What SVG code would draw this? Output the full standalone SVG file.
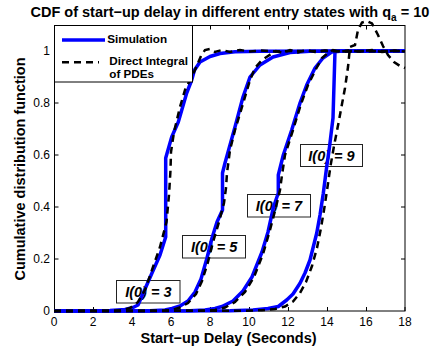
<svg xmlns="http://www.w3.org/2000/svg" width="441" height="353" viewBox="0 0 441 353">
<style>
text{font-family:"Liberation Sans",Arial,sans-serif;fill:#000}
.tick{font-size:12px}
.lab{font-size:14.5px;font-weight:bold}
.title{font-size:14.5px;font-weight:bold}
.leg{font-size:11.7px;font-weight:bold}
.box rect{fill:#fff;stroke:#222;stroke-width:1}
.box text{font-size:14.5px;font-weight:bold;font-style:italic;text-anchor:middle}
.sim{fill:none;stroke:#0000ff;stroke-width:3.5;stroke-linejoin:round}
.pde{fill:none;stroke:#000;stroke-width:2.5;stroke-dasharray:7 5}
.frame{fill:none;stroke:#000;stroke-width:1}
</style>
<rect width="441" height="353" fill="#fff"/>
<g id="axes">
<rect class="frame" x="54.5" y="25.5" width="350.5" height="285.5"/>
<path class="frame" d="M54.5,311v-4M93.5,311v-4M132.5,311v-4M171.5,311v-4M210.5,311v-4M249.5,311v-4M288.5,311v-4M327.5,311v-4M366.5,311v-4M405,311v-4
M54.5,25.5v4M93.5,25.5v4M132.5,25.5v4M171.5,25.5v4M210.5,25.5v4M249.5,25.5v4M288.5,25.5v4M327.5,25.5v4M366.5,25.5v4
M54.5,259h4M54.5,207h4M54.5,155h4M54.5,103h4M54.5,51h4
M405,259h-4M405,207h-4M405,155h-4M405,103h-4M405,51h-4"/>
<g class="tick" text-anchor="middle">
<text x="54" y="325.5">0</text><text x="93" y="325.5">2</text><text x="132" y="325.5">4</text><text x="171" y="325.5">6</text><text x="210" y="325.5">8</text><text x="249" y="325.5">10</text><text x="288" y="325.5">12</text><text x="327" y="325.5">14</text><text x="366" y="325.5">16</text><text x="405" y="325.5">18</text>
</g>
<g class="tick" text-anchor="end">
<text x="50" y="315">0</text><text x="50" y="263">0.2</text><text x="50" y="211">0.4</text><text x="50" y="159">0.6</text><text x="50" y="107">0.8</text><text x="50" y="55">1</text>
</g>
<text class="title" x="30.5" y="17.3">CDF of start−up delay in different entry states with q<tspan font-size="10" dy="4">a</tspan><tspan dy="-4"> = 10</tspan></text>
<text class="lab" x="228.5" y="342.5" text-anchor="middle">Start−up Delay (Seconds)</text>
<text class="lab" transform="translate(25.3,169) rotate(-90)" text-anchor="middle">Cumulative distribution function</text>
</g>
<g id="label-i3" class="box"><rect x="116.5" y="280.5" width="63.5" height="22.5"/><text x="148.3" y="296.5">I(0) = 3</text></g>
<g id="label-i5" class="box"><rect x="182.5" y="235.5" width="63" height="22.5"/><text x="214.2" y="252">I(0) = 5</text></g>
<g id="label-i7" class="box"><rect x="247.5" y="194.5" width="63" height="22.5"/><text x="279" y="211">I(0) = 7</text></g>
<g id="label-i9" class="box"><rect x="300.5" y="144.5" width="62" height="22"/><text x="331.5" y="160.5">I(0) = 9</text></g>
<g id="curves">
<path class="sim" d="M54,311 L110,310.6 L125,309.5 L133,307.5 L138,305 L145,289 L152,273 L160,255 L165.7,237 L165.7,158 L171.7,137 L178.3,122 L186.7,93 L191.7,80 L194.5,70 L200,62 L210,56.5 L220,53.5 L235,51.8 L260,51.2 L405,51"/>
<path class="sim" d="M54,311 L150,310.8 L165,310 L172,308.5 L180,306 L188,301 L195,292 L201,279 L207,258 L212,238 L217,222 L222.5,210 L222.5,173 L225,163 L235,127 L243,97 L250,77 L260,65 L273,57 L290,52.5 L310,51.3 L405,51"/>
<path class="sim" d="M54,311 L190,310.8 L205,310 L215,308.5 L222,306.5 L233,301 L243,291 L252,277 L262,252 L268,232 L273.5,207 L278.3,193 L278.3,175 L283.3,155 L291.7,130 L300,103 L306.7,85 L315,68 L323,58 L331.7,52 L340,51.2 L405,51"/>
<path class="sim" d="M54,311 L230,310.8 L253,310 L268,308.5 L278.3,306.5 L286.7,300 L293,294 L300,283.3 L305,273 L310,260 L316.7,233.3 L320,215 L323.3,193.3 L326.7,166.7 L329.5,147 L333,118 L335,51 L405,51"/>
<path class="pde" d="M54,311 L120,310.6 L130,308 L138,302 L145,290 L153,267 L160,247 L166.5,222 L169,195 L170.5,170 L171,152 L174,132 L180,107 L185,90 L190,80 L195,70 L201,56 L205,50 L210,49 L215,52 L222,50 L230,52 L240,50 L250,51.5 L260,50.5 L275,51.5 L290,51 L405,51"/>
<path class="pde" d="M54,311 L160,310.8 L172,310 L180,307.5 L188,303 L196,294 L202,281 L208,262 L213,242 L219,222 L224,203 L226,188 L227,173 L230,150 L235,130 L242,107 L250,80 L255,68 L262,60 L268,56 L276,51 L283,53 L290,50 L298,52.5 L306,50 L315,52 L325,50.5 L340,51.5 L405,51"/>
<path class="pde" d="M54,311 L200,310.8 L215,310 L225,307.5 L235,302 L245,292 L254,277 L263,254 L270,230 L276,207 L280,190 L282,175 L285,155 L293,130 L301,104 L308,85 L316,69 L322,58 L328,53 L333,50 L340,52 L348,50.5 L360,51.5 L372,50 L382,52 L395,50.5 L405,51.5"/>
<path class="pde" d="M54,311 L245,310.8 L262,310.2 L275,309 L285,306.5 L293,301.5 L300,293 L306,282 L312,266 L317,248 L321,228 L324.5,207 L327.5,187 L330.5,166 L334,146 L338.5,123 L342,104 L345,88 L348,67 L350,47 L355,45 L358,30 L362,22.5 L367,21 L372,23.5 L378,35 L383,46 L388,55 L394,62 L400,66 L405,68"/>
</g>
<g id="legend">
<rect x="54.5" y="25.5" width="138" height="56.5" fill="#fff" stroke="#000" stroke-width="1"/>
<line x1="62" y1="40" x2="105" y2="40" stroke="#0000ff" stroke-width="3.5"/>
<line x1="62" y1="62.3" x2="99" y2="62.3" stroke="#000" stroke-width="2.5" stroke-dasharray="7 5"/>
<text class="leg" x="107.3" y="42.5">Simulation</text>
<text class="leg" x="109.3" y="64.8">Direct Integral</text>
<text class="leg" x="109.3" y="78">of PDEs</text>
</g>
</svg>
